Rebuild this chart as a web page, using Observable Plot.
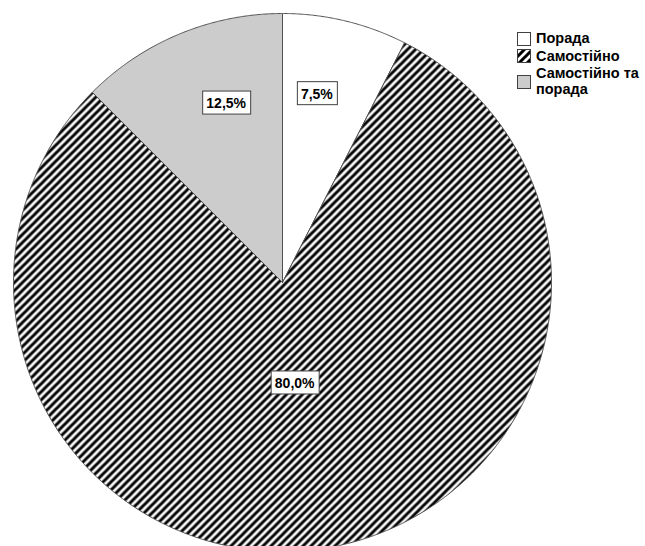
<!DOCTYPE html>
<html>
<head>
<meta charset="utf-8">
<script src="https://cdn.jsdelivr.net/npm/d3@7"></script>
<script src="https://cdn.jsdelivr.net/npm/@observablehq/plot@0.6"></script>
<style>
  body { margin: 0; background: #fff; }
  #chart { position: relative; width: 645px; height: 546px; overflow: hidden;
           font-family: "Liberation Sans", Arial, sans-serif; }
  .legend { position: absolute; left: 517px; top: 31px; font-weight: bold;
            font-size: 14.5px; line-height: 15.5px; color: #000; }
  .legend .item { display: flex; align-items: center; margin-bottom: 2px; }
  .legend .item:last-child { margin-top: 1px; }
  .legend .item svg { flex: none; margin-right: 5px; display: block; }
</style>
</head>
<body>
<div id="chart"></div>
<script>
// Distribution of answers (percent of respondents)
const categories = ["Порада", "Самостійно", "Самостійно та порада"];
const shares = [7.5, 80.0, 12.5];

// Slice fills: plain white, diagonal hatch, light grey
const fills = ["#ffffff", "url(#hatch)", "#cccccc"];

const W = 645, H = 546;
const cx = 282, cy = 282, R = 269;

const fmt = v => v.toFixed(1).replace(".", ",") + "%";

const arcs = d3.pie().sort(null).value(d => d.share)(
  categories.map((category, i) => ({category, share: shares[i]}))
);

// Polygon outline of each slice: centre → arc → centre
const outline = arcs.flatMap(a => {
  const c = a.data.category;
  const n = Math.max(2, Math.ceil((a.endAngle - a.startAngle) / (Math.PI / 720)));
  const pts = [{category: c, x: cx, y: cy}];
  for (let k = 0; k <= n; k++) {
    const t = a.startAngle + (a.endAngle - a.startAngle) * k / n;
    pts.push({category: c, x: cx + R * Math.sin(t), y: cy - R * Math.cos(t)});
  }
  pts.push({category: c, x: cx, y: cy});
  return pts;
});

// Value labels sit on a slightly narrowed ellipse along each slice's mid-angle;
// the big slice keeps its label nearer the centre
const labels = arcs.map(a => {
  const mid = (a.startAngle + a.endAngle) / 2;
  const r = R * (a.data.share > 50 ? 0.38 : 0.72);
  return {x: cx + 0.76 * r * Math.sin(mid), y: cy - r * Math.cos(mid), text: fmt(a.data.share)};
});

const plot = Plot.plot({
  width: W,
  height: H,
  margin: 0,
  x: {domain: [0, W], range: [0, W], axis: null},
  y: {domain: [0, H], range: [0, H], axis: null},
  color: {domain: categories, range: fills},
  style: {background: "white", fontFamily: "'Liberation Sans', Arial, sans-serif"},
  marks: [
    Plot.line(outline, {x: "x", y: "y", z: "category", fill: "category",
                        stroke: "#505050", strokeWidth: 1}),
    Plot.text(labels, {x: "x", y: "y", text: "text", fontSize: 14,
                       fontWeight: "bold", fill: "black"})
  ]
});

// Hatch pattern used by the "Самостійно" slice and its legend swatch
const defs = d3.select(plot).insert("defs", ":first-child");
const pat = defs.append("pattern").attr("id", "hatch")
  .attr("patternUnits", "userSpaceOnUse").attr("width", 8).attr("height", 8);
pat.append("rect").attr("width", 8).attr("height", 8).attr("fill", "white");
pat.append("path").attr("d", "M-4,4L4,-4M0,8L8,0M4,12L12,4")
  .attr("stroke", "black").attr("stroke-width", 3);

const chart = document.getElementById("chart");
chart.appendChild(plot);

// White framed boxes behind the value labels
d3.select(plot).selectAll('g[aria-label="text"] text').each(function () {
  const b = this.getBBox();
  const rect = document.createElementNS("http://www.w3.org/2000/svg", "rect");
  const x0 = Math.round(b.x - 4) + 0.5, y0 = Math.round(b.y - 4) + 0.5;
  rect.setAttribute("x", x0);
  rect.setAttribute("y", y0);
  rect.setAttribute("width", Math.round(b.width + 8));
  rect.setAttribute("height", Math.round(b.height + 7));
  rect.setAttribute("fill", "white");
  rect.setAttribute("stroke", "#404040");
  rect.setAttribute("stroke-width", 1);
  if (this.getAttribute("transform")) rect.setAttribute("transform", this.getAttribute("transform"));
  this.parentNode.insertBefore(rect, this);
});

// Legend
const legend = document.createElement("div");
legend.className = "legend";
const legendText = ["Порада", "Самостійно", "Самостійно та<br>порада"];
categories.forEach((c, i) => {
  const item = document.createElement("div");
  item.className = "item";
  item.innerHTML =
    `<svg width="14" height="14"><rect x="0.5" y="0.5" width="13" height="13" fill="${fills[i]}" stroke="#404040"/></svg>` +
    `<span>${legendText[i]}</span>`;
  legend.appendChild(item);
});
chart.appendChild(legend);
</script>
</body>
</html>
